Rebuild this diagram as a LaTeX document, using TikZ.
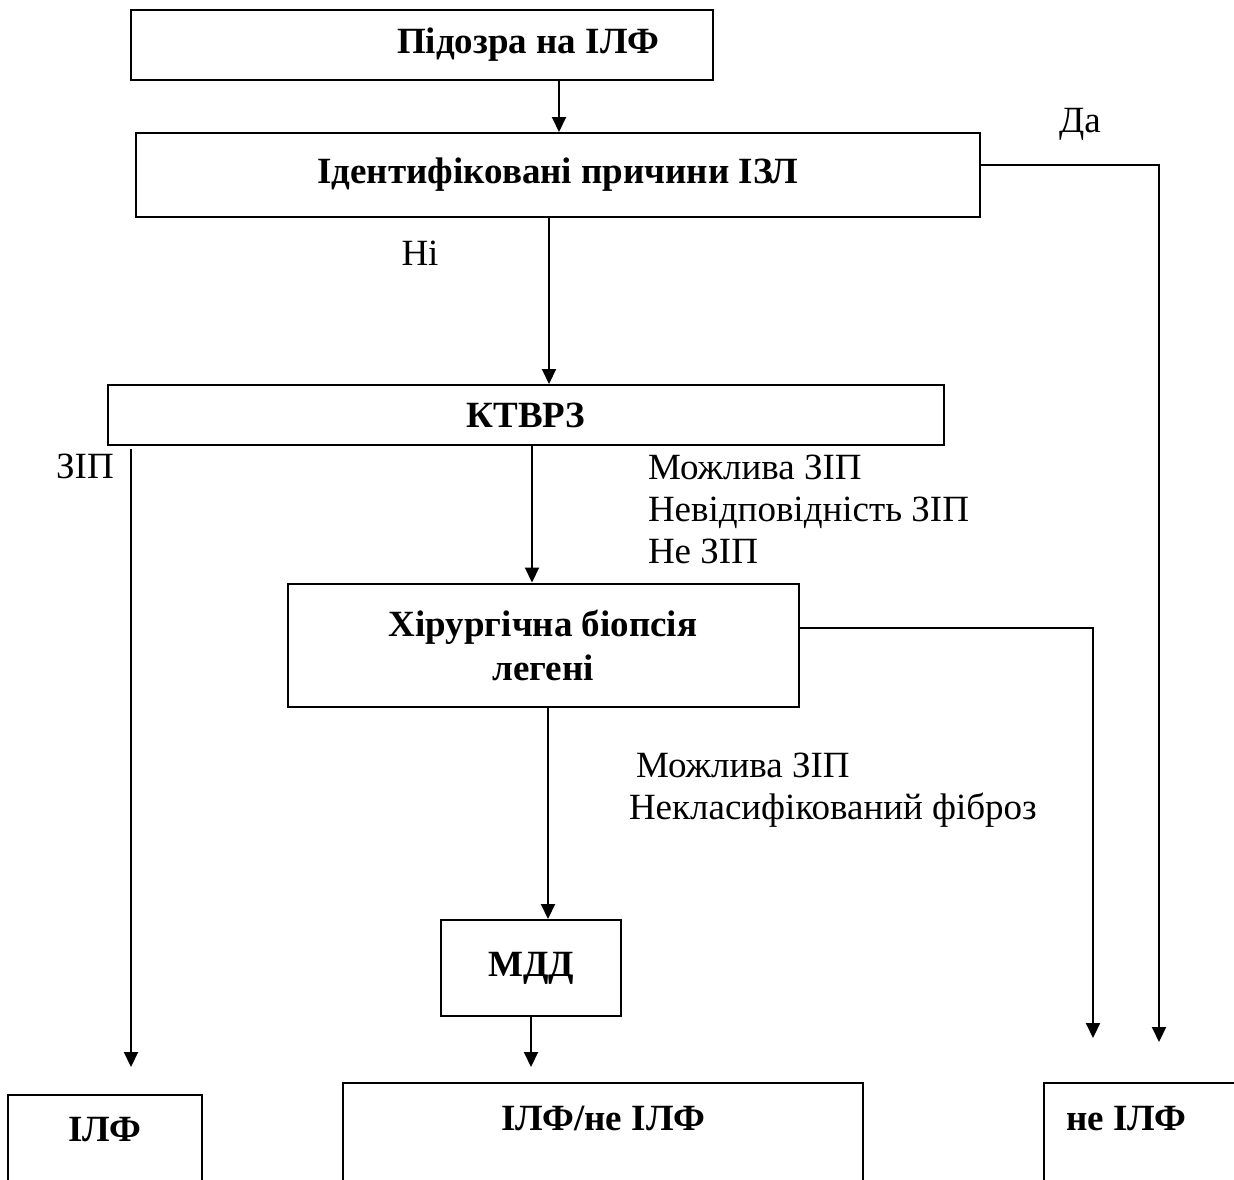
\documentclass[tikz,border=0pt]{standalone}
\usepackage{fontspec}
\setmainfont{Liberation Serif}
\usetikzlibrary{arrows.meta}
\begin{document}
\begin{tikzpicture}[x=1pt,y=-1pt,>={Triangle[length=15pt,width=14pt]},line width=2pt,font=\fontsize{37}{42}\selectfont]
\tikzstyle{blk}=[draw,inner sep=0pt,align=center,font=\fontsize{37}{44}\selectfont\bfseries]
\tikzstyle{lbl}=[inner sep=0pt,anchor=west,align=left]
  \useasboundingbox(0,0)rectangle(1234,1179);
  \clip(0,0)rectangle(1234,1179);
  \node(susp)at(422,45)[blk,minimum width=582pt,minimum height=70pt,label={[font=\fontsize{37}{44}\selectfont\bfseries,xshift=106pt]center:Підозра на ІЛФ}]{};
  \node(ident)at(558,175)[blk,minimum width=844pt,minimum height=84pt]{Ідентифіковані причини ІЗЛ};
  \node(ktvrz)at(526,415)[blk,minimum width=836pt,minimum height=60pt]{КТВРЗ};
  \node(biop)at(543,645)[blk,minimum width=511pt,minimum height=123pt]{Хірургічна біопсія\\легені};
  \node(mdd)at(531,968)[blk,minimum width=180pt,minimum height=96pt]{МДД};
  \node(ilf)at(105,1094)[blk,anchor=north,minimum width=194pt,text height=46pt,text depth=150pt]{ІЛФ};
  \node(ilfno)at(603,1082)[blk,anchor=north,minimum width=520pt,text height=47pt,text depth=150pt]{ІЛФ/не ІЛФ};
  \node(noilf)at(1043,1082)[blk,anchor=north west,inner xsep=22pt,text height=47pt,text depth=150pt]{\makebox[230pt][l]{не ІЛФ}};
  \node(yes)at(1080,124)[]{Да};
  \node(no)at(420,253)[]{Ні};
  \node(zip)at(85,466)[]{ЗІП};
  \node(ktres)at(647,509)[lbl]{Можлива ЗІП\\Невідповідність ЗІП\\Не ЗІП};
  \node(biores)at(628,790)[lbl]{\hspace{7pt}Можлива ЗІП\\Некласифікований фіброз};
  \coordinate(zipstart)at(131,449);
  \coordinate(zipend)at(131,1067);
  \coordinate(yesend)at(1159,1042);
  \coordinate(bioend)at(1093,1038);
  \draw[->]([xshift=137pt]susp.south)--([xshift=1pt]ident.north);
  \draw[->]([yshift=10pt]ident.east)-|(yesend);
  \draw[->]([xshift=-9pt]ident.south)--([xshift=23pt]ktvrz.north);
  \draw[->](zipstart)--(zipend);
  \draw[->]([xshift=6pt]ktvrz.south)--([xshift=-11pt]biop.north);
  \draw[->]([yshift=17pt]biop.east)-|(bioend);
  \draw[->]([xshift=5pt]biop.south)--([xshift=17pt]mdd.north);
  \draw[->,shorten >=15pt](mdd.south)--(mdd.south|-ilfno.north);
\end{tikzpicture}
\end{document}
